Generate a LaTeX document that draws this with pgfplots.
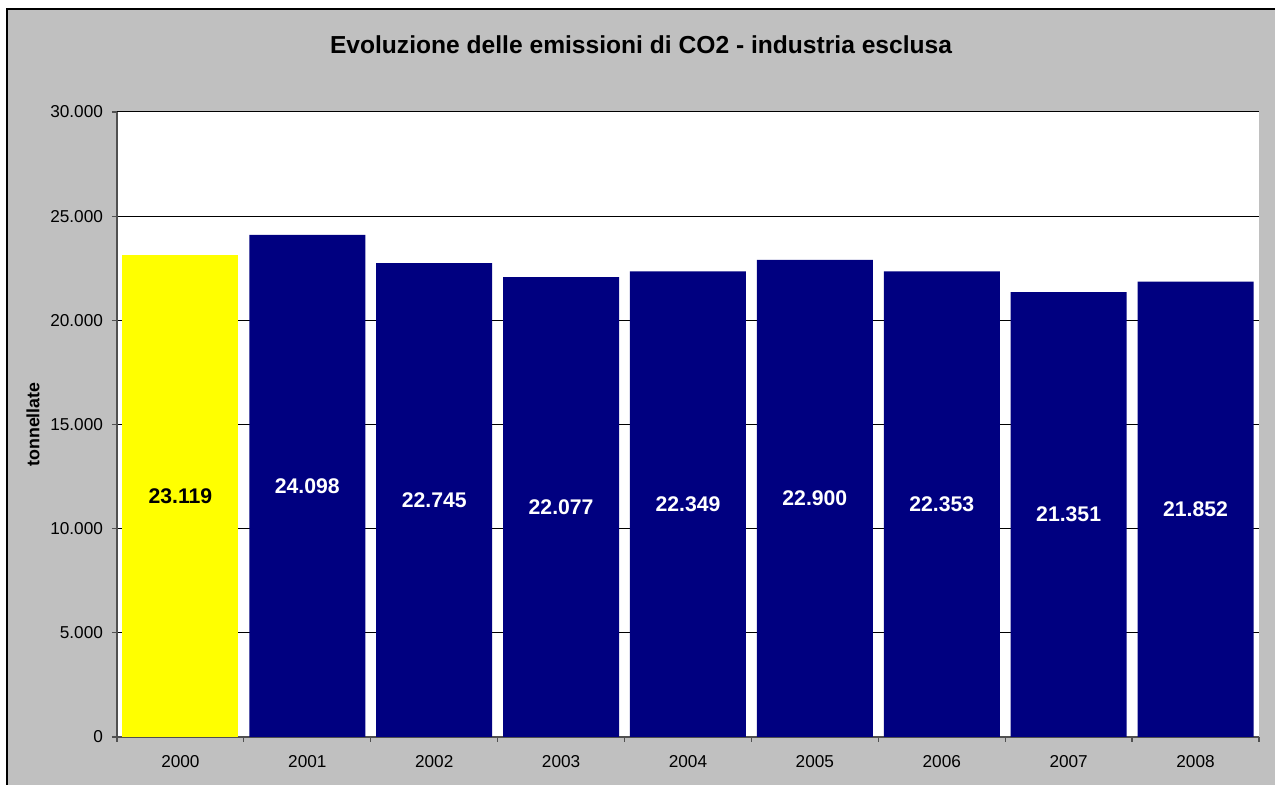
\documentclass[border=0pt]{standalone}
\usepackage{pgfplots}
\pgfplotsset{compat=1.18}
\usepackage{pgfplotstable}
\usepackage{fontspec}
\setmainfont{Liberation Sans}
\definecolor{bgray}{HTML}{C0C0C0}
\definecolor{navy}{HTML}{000080}
\definecolor{pureyellow}{HTML}{FFFF00}
\definecolor{axgray}{HTML}{505050}

\pgfplotstableread{
x y label
0 23119 23.119
}\first
\pgfplotstableread{
x y label
1 24098 24.098
2 22745 22.745
3 22077 22.077
4 22349 22.349
5 22900 22.900
6 22353 22.353
7 21351 21.351
8 21852 21.852
}\rest

\begin{document}
\begin{tikzpicture}
\path[use as bounding box] (-58.5pt,-24pt) rectangle (579pt,368.5pt);
\fill[white] (-58.5pt,-24pt) rectangle (579pt,368.5pt);
\fill[bgray] (-55pt,-24pt) rectangle (579pt,364pt);
\draw[black, line width=0.7pt] (-55pt,-24pt) -- (-55pt,364pt) -- (579pt,364pt);
\begin{axis}[
  scale only axis,
  width=571pt, height=312.5pt,
  at={(0,0)}, anchor=south west,
  xmin=-0.5, xmax=8.5,
  ymin=0, ymax=30000,
  scaled y ticks=false,
  axis background/.style={fill=white},
  axis x line*=bottom, axis y line*=left,
  axis line style={axgray, line width=0.6pt},
  tick align=outside,
  xtick={0,...,8},
  xticklabels={2000,2001,2002,2003,2004,2005,2006,2007,2008},
  major x tick style={draw=none},
  minor xtick={-0.5,0.5,...,8.5},
  minor tick length=2.5pt,
  major tick length=2.5pt,
  tick style={axgray, line width=0.6pt},
  ytick={0,5000,...,30000},
  yticklabels={0,5.000,10.000,15.000,20.000,25.000,30.000},
  ymajorgrids,
  grid style={black, line width=0.5pt},
  ticklabel style={font=\fontsize{8.6}{10}\selectfont, text=black},
  yticklabel style={anchor=east, xshift=-1pt},
  xticklabel style={anchor=base, yshift=-13pt},
  ylabel={\bfseries tonnellate},
  every axis y label/.style={at={([xshift=-42pt]axis description cs:0,0.5)}, rotate=90, anchor=center, font=\fontsize{8.9}{10}\selectfont},
  clip=false,
]
\addplot[ybar, bar width=58pt, bar shift=0pt, fill=pureyellow, draw=none] table[x=x,y=y] {\first};
\addplot[ybar, bar width=58pt, bar shift=0pt, fill=navy, draw=none] table[x=x,y=y] {\rest};
\addplot[draw=none, mark=none, nodes near coords, point meta=explicit symbolic,
  nodes near coords style={anchor=center, text=black, font=\bfseries\fontsize{10.6}{12}\selectfont}]
  table[x=x, y expr=\thisrow{y}/2, meta=label] {\first};
\addplot[draw=none, mark=none, nodes near coords, point meta=explicit symbolic,
  nodes near coords style={anchor=center, text=white, font=\bfseries\fontsize{10.6}{12}\selectfont}]
  table[x=x, y expr=\thisrow{y}/2, meta=label] {\rest};
\end{axis}
\node[font=\bfseries\fontsize{12.3}{14}\selectfont] at (262pt,346pt) {Evoluzione delle emissioni di CO2 - industria esclusa};
\end{tikzpicture}
\end{document}
